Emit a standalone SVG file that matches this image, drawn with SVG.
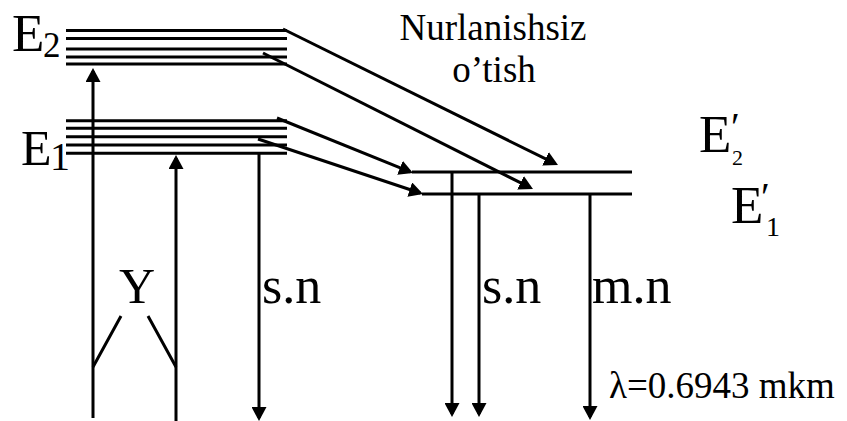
<svg xmlns="http://www.w3.org/2000/svg" width="847" height="421" viewBox="0 0 847 421">
<style>
.ln{stroke:#000;stroke-width:3;fill:none}
.ar{stroke:#000;stroke-width:3;fill:none;marker-end:url(#ah)}
</style>
<defs>
<marker id="ah" viewBox="0 0 14 15" refX="11" refY="7.5" markerWidth="14" markerHeight="15" markerUnits="userSpaceOnUse" orient="auto">
<path d="M0,0 L14,7.5 L0,15 z" fill="#000"/>
</marker>
</defs>
<rect width="847" height="421" fill="#fff"/>
<g id="E2">
<path class="ln" d="M66,30.5H287M66,38.5H287M66,49H287M66,57H287M66,64H287"/>
<text x="12" y="51" font-size="53" font-family="Liberation Serif">E</text><text x="43" y="57" font-size="35" font-family="Liberation Serif">2</text>
</g>
<g id="E1">
<path class="ln" d="M66,120.7H287M66,128.3H287M66,136.7H287M66,145H287M66,153.3H287"/>
<text x="21" y="165" font-size="50" font-family="Liberation Serif">E</text><text x="50" y="170" font-size="40" font-family="Liberation Serif">1</text>
</g>
<g id="E2p">
<path class="ln" d="M412,172H632"/>
<text x="699" y="152" font-size="53" font-family="Liberation Serif">E</text><text x="731" y="140" font-size="40" font-family="Liberation Serif">′</text><text x="732" y="165" font-size="22" font-family="Liberation Serif">2</text>
</g>
<g id="E1p">
<path class="ln" d="M422,194H632"/>
<text x="731" y="223" font-size="53" font-family="Liberation Serif">E</text><text x="761" y="210" font-size="40" font-family="Liberation Serif">′</text><text x="766" y="236" font-size="28" font-family="Liberation Serif">1</text>
</g>
<g id="labels">
<text x="493" y="40" font-size="37" text-anchor="middle" font-family="Liberation Serif">Nurlanishsiz</text>
<text x="494" y="82" font-size="37" text-anchor="middle" font-family="Liberation Serif">o’tish</text>
<text x="137" y="303" font-size="50" text-anchor="middle" font-family="Liberation Serif">Y</text>
<text x="262" y="303" font-size="52" font-family="Liberation Serif">s.n</text>
<text x="482" y="303" font-size="52" font-family="Liberation Serif">s.n</text>
<text x="592" y="303" font-size="52" font-family="Liberation Serif">m.n</text>
<text x="609" y="398" font-size="37" font-family="Liberation Serif">λ=0.6943 mkm</text>
</g>
<g id="connectors">
<path class="ar" d="M93,418V71"/>
<path class="ar" d="M176,421V158"/>
<path class="ln" d="M93,367L121,316M148,316L176,367"/>
<path class="ar" d="M259,153V418"/>
<path class="ar" d="M452,172V414"/>
<path class="ar" d="M479,194V414"/>
<path class="ar" d="M590,194V417"/>
<path class="ar" d="M283,29L555.3,163.7"/>
<path class="ar" d="M263,53L530.3,187.7"/>
<path class="ar" d="M277,118L410.2,171.9"/>
<path class="ar" d="M258,139L420.2,193"/>
</g>
</svg>
